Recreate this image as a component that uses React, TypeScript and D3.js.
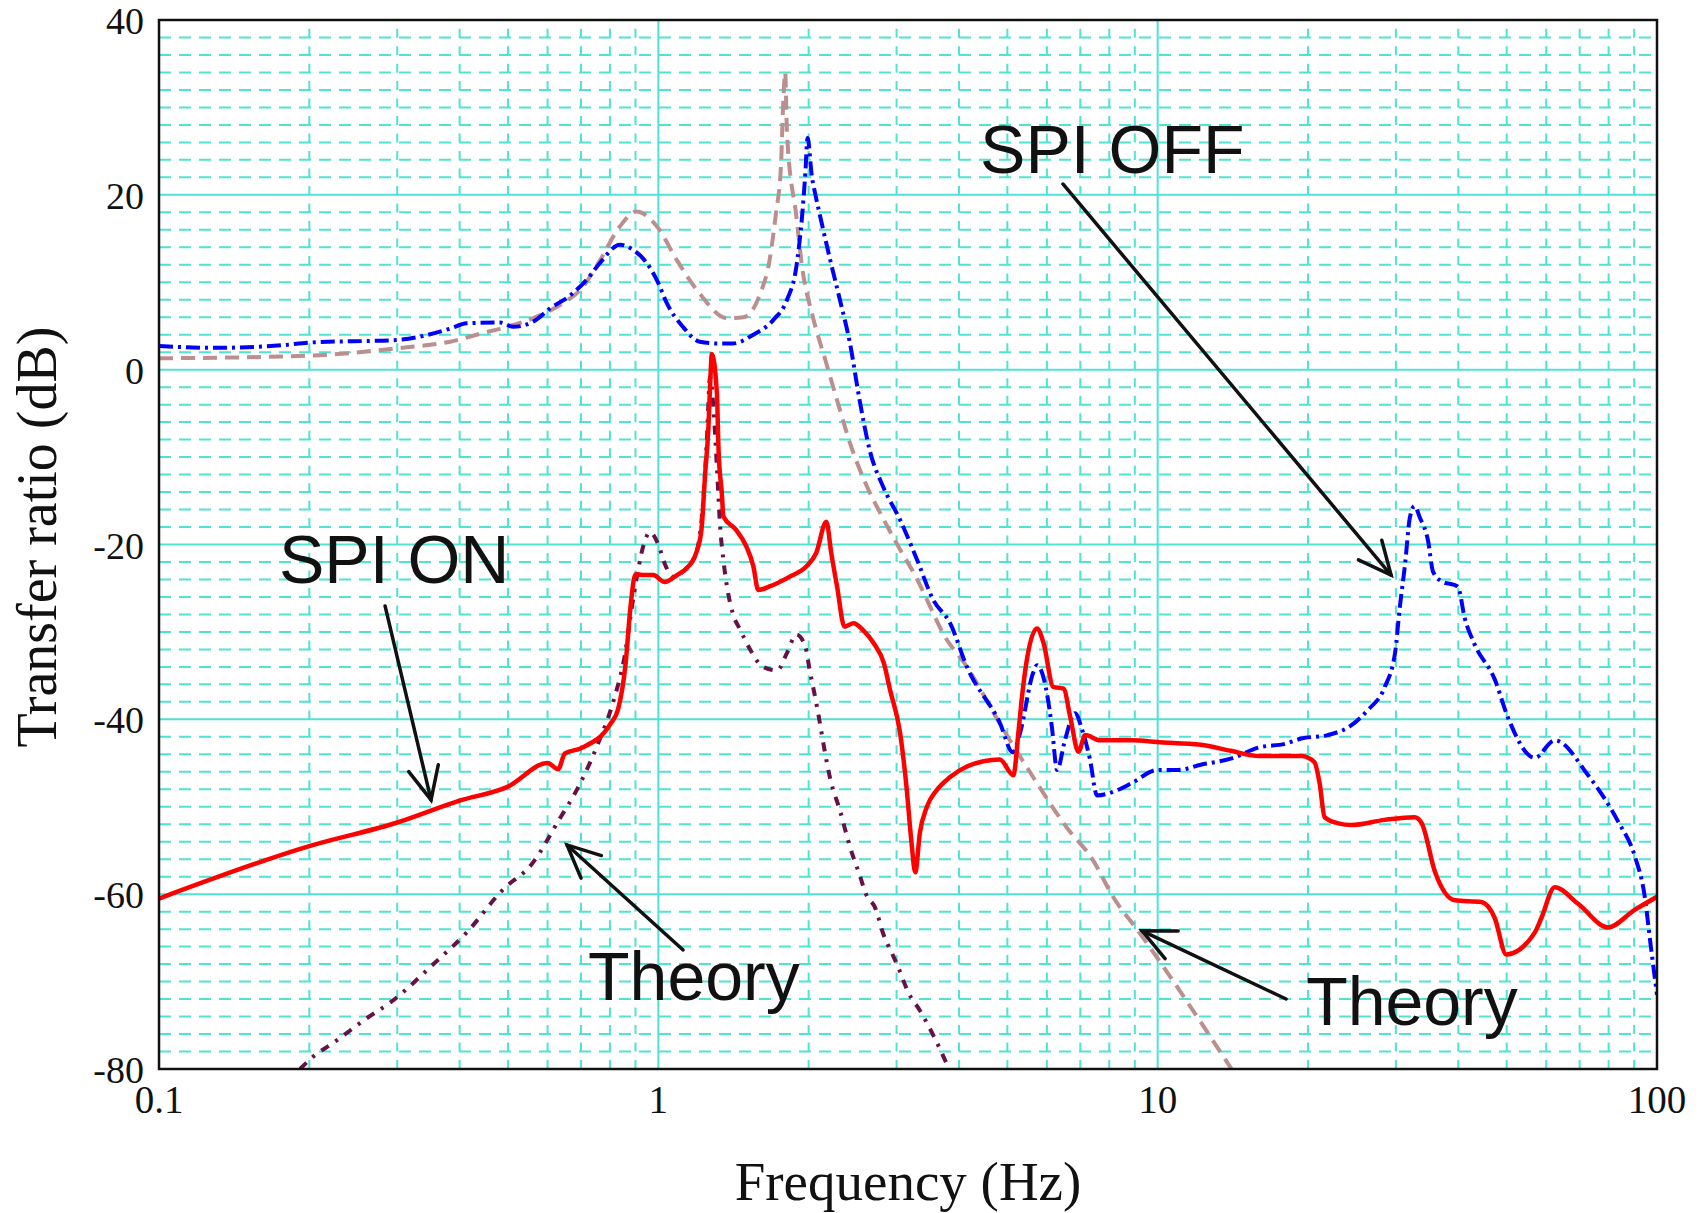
import React from 'react';
import * as d3 from 'd3';

const W = 1701;
const H = 1213;
const margin = { top: 20, right: 44, bottom: 144, left: 159 };

// Axis ticks
const xTicks = [0.1, 1, 10, 100];
const xTickLabels = ['0.1', '1', '10', '100'];
const yTicks = [40, 20, 0, -20, -40, -60, -80];

// Measured transfer ratio, SPI OFF: [frequency Hz, dB]
const spiOff: [number, number][] = [
  [0.1, 2.7], [0.13, 2.5], [0.177, 2.8], [0.2, 3.1], [0.3, 3.4], [0.383, 4.7],
  [0.413, 5.3], [0.482, 5.4], [0.513, 4.9], [0.562, 5.5], [0.607, 7.0], [0.666, 8.5],
  [0.719, 10.3], [0.764, 12.2], [0.838, 14.3], [0.891, 13.7], [0.948, 12.2], [1.0, 9.9],
  [1.04, 7.6], [1.12, 4.9], [1.21, 3.2], [1.31, 3.0], [1.41, 3.0], [1.55, 4.0],
  [1.7, 5.7], [1.81, 8.0], [1.89, 11.8], [1.94, 17.5], [1.97, 22.5], [1.99, 26.5],
  [2.03, 22.1], [2.06, 20.2], [2.11, 17.5], [2.21, 12.5], [2.31, 8.0], [2.42, 3.0],
  [2.53, -3.5], [2.65, -9.2], [2.82, -13.4], [3.05, -17.2], [3.3, -21.8], [3.55, -26.3],
  [3.84, -29.0], [4.15, -34.0], [4.83, -40.4], [5.13, -43.8], [5.3, -41.6], [5.63, -34.7],
  [5.73, -33.8], [6.0, -37.0], [6.14, -40.9], [6.29, -45.8], [6.52, -42.4], [6.83, -39.3],
  [7.06, -41.2], [7.32, -44.6], [7.56, -48.7], [8.3, -48.1], [8.93, -47.2], [9.98, -45.8],
  [10.96, -45.8], [12.2, -45.2], [14, -44.5], [16, -43.2], [18, -42.8], [19.4, -42.2],
  [21.9, -41.8], [24.4, -40.7], [26.4, -38.9], [28.5, -36.3], [29.9, -32.3], [30.5, -27.5],
  [31.3, -22.2], [32, -16.9], [32.7, -15.6], [33.5, -16.9], [34.8, -19.6], [35.6, -23.1],
  [37, -24.2], [39.9, -24.8], [41.2, -28.4], [43.1, -31.4], [47.3, -35.4], [50.3, -39.8],
  [56.9, -44.4], [62.4, -42.4], [72.8, -46.4], [83.6, -51.7], [90.2, -55.6], [94.4, -60.1],
  [97.3, -66.2], [100, -71.5],
];

// Measured transfer ratio, SPI ON
const spiOn: [number, number][] = [
  [0.1, -60.5], [0.2, -54.5], [0.3, -51.8], [0.4, -49.3], [0.5, -47.7], [0.6, -45.0],
  [0.63, -45.7], [0.65, -43.9], [0.7, -43.3], [0.8, -40.6], [0.83, -38.9], [0.86, -33.6],
  [0.88, -27.0], [0.9, -23.4], [0.94, -23.5], [0.977, -23.5], [1.03, -24.3], [1.09, -23.5],
  [1.14, -22.7], [1.19, -21.0], [1.22, -18.3], [1.24, -12.2], [1.26, -6.5], [1.27, -1.6],
  [1.28, 1.8], [1.31, -2.7], [1.32, -9.2], [1.34, -14.1], [1.35, -16.8], [1.43, -18.3],
  [1.5, -20.2], [1.55, -22.5], [1.585, -25.2], [1.67, -24.8], [1.83, -23.7], [1.98, -22.5],
  [2.07, -21.0], [2.17, -17.4], [2.22, -21.0], [2.28, -24.8], [2.36, -29.4], [2.46, -29.0],
  [2.57, -29.8], [2.7, -31.3], [2.83, -33.6], [2.91, -36.6], [3.05, -41.6], [3.14, -47.7],
  [3.21, -53.8], [3.27, -57.5], [3.34, -53.0], [3.45, -50.0], [3.61, -48.1], [3.84, -46.6],
  [4.15, -45.4], [4.48, -44.8], [4.83, -44.6], [5.14, -46.4], [5.26, -41.6], [5.34, -37.8],
  [5.47, -33.2], [5.73, -29.6], [5.91, -31.3], [6.18, -36.3], [6.48, -36.5], [6.68, -39.7],
  [6.94, -43.7], [7.16, -41.8], [7.67, -42.4], [8.93, -42.4], [9.95, -42.6], [12.2, -42.9],
  [14, -43.6], [16, -44.2], [19.4, -44.2], [20.6, -44.9], [21.1, -47.3], [21.6, -51.2],
  [23, -51.9], [24.4, -52.1], [28.5, -51.5], [32.7, -51.2], [33.8, -51.9], [35.9, -57.4],
  [39.4, -60.7], [44.5, -60.9], [47.3, -62.7], [49.9, -66.9], [56.9, -64.4], [58.7, -62.7],
  [62.4, -59.2], [69.5, -61.1], [79.8, -63.8], [90.2, -61.8], [100, -60.3],
];

// Theoretical response, SPI OFF
const theoryOff: [number, number][] = [
  [0.1, 1.3], [0.2, 1.6], [0.3, 2.45], [0.383, 3.2], [0.446, 4.2], [0.498, 4.9],
  [0.562, 5.9], [0.635, 7.4], [0.707, 9.5], [0.764, 12.5], [0.838, 16.4], [0.903, 18.1],
  [0.993, 16.4], [1.09, 12.5], [1.21, 8.7], [1.37, 5.9], [1.48, 6.0], [1.6, 8.7],
  [1.67, 12.5], [1.72, 17.9], [1.76, 23.2], [1.78, 30.9], [1.795, 34.0], [1.81, 27.0],
  [1.89, 17.5], [1.94, 11.8], [2.04, 6.0], [2.16, 1.1], [2.31, -4.6], [2.42, -8.4],
  [2.6, -13.0], [2.83, -17.2], [3.05, -20.6], [3.3, -24.0], [3.45, -26.3], [3.72, -30.2],
  [4.15, -34.0], [4.83, -40.5], [5.63, -46.6], [6.56, -52.3], [7.42, -56.1], [8.14, -60.3],
  [9.19, -64.4], [14.06, -80.0],
];

// Theoretical response, SPI ON
const theoryOn: [number, number][] = [
  [0.1916, -80.0], [0.2034, -78.6], [0.2235, -77.0], [0.2606, -74.2], [0.292, -72.3],
  [0.356, -67.9], [0.413, -64.4], [0.488, -59.5], [0.559, -56.5], [0.631, -51.6],
  [0.692, -47.7], [0.757, -42.8], [0.817, -37.5], [0.854, -33.1], [0.894, -25.6],
  [0.936, -19.9], [0.962, -18.6], [1.0, -20.0], [1.03, -22.2], [1.07, -23.7], [1.12, -23.1],
  [1.19, -21.0], [1.23, -15.0], [1.25, -8.4], [1.27, -0.8], [1.29, -4.6], [1.31, -11.1],
  [1.33, -18.0], [1.35, -21.8], [1.38, -25.6], [1.41, -27.9], [1.46, -29.8], [1.53, -32.1],
  [1.62, -34.0], [1.73, -34.4], [1.81, -32.4], [1.89, -30.3], [1.97, -31.7], [2.01, -34.4],
  [2.06, -37.4], [2.22, -47.3], [2.31, -50.4], [2.42, -54.6], [2.53, -57.8], [2.61, -60.1],
  [2.72, -61.6], [2.82, -64.5], [2.95, -67.0], [3.02, -68.3], [3.17, -71.3], [3.34, -73.3],
  [3.47, -75.0], [3.67, -77.8], [3.8, -79.7],
];

// Callout labels and arrows, placed in data coordinates [Hz, dB]
const calloutTexts = [
  { text: 'SPI OFF', at: [4.41, 22.5] },
  { text: 'SPI ON', at: [0.1739, -24.4] },
  { text: 'Theory', at: [0.7232, -72.1] },
  { text: 'Theory', at: [19.83, -74.96] },
];
const calloutArrows = [
  { from: [6.46, 21.24], to: [29.34, -23.49] },
  { from: [0.2836, -27.03], to: [0.3506, -49.22] },
  { from: [1.121, -66.38], to: [0.6564, -54.37] },
  { from: [18.08, -71.99], to: [9.307, -64.2] },
];

const GRID = '#4fe3d3';

export default function App() {
  const x = d3.scaleLog().domain([0.1, 100]).range([margin.left, W - margin.right]);
  const y = d3.scaleLinear().domain([-80, 40]).range([H - margin.bottom, margin.top]);
  const x0 = x.range()[0], x1 = x.range()[1];
  const y0 = y.range()[0], y1 = y.range()[1];

  const line = d3
    .line<[number, number]>()
    .x((d) => x(d[0]))
    .y((d) => y(d[1]))
    .curve(d3.curveMonotoneX);

  // grid positions
  const minorY = d3.range(-78, 40, 2).filter((v) => v % 20 !== 0);
  const majorY = [-60, -40, -20, 0, 20];
  const minorX: number[] = [];
  [0.1, 1, 10].forEach((dec) => {
    for (let k = 2; k <= 9; k++) minorX.push(dec * k);
  });
  const majorX = [1, 10];

  const arrowHead = (fx: number, fy: number, tx: number, ty: number) => {
    const ang = Math.atan2(fy - ty, fx - tx);
    const len = 36;
    const spread = (25 * Math.PI) / 180;
    const a1 = ang + spread;
    const a2 = ang - spread;
    return `M${tx + len * Math.cos(a1)},${ty + len * Math.sin(a1)}L${tx},${ty}L${tx + len * Math.cos(a2)},${ty + len * Math.sin(a2)}`;
  };

  const serif = '"Liberation Serif", "Times New Roman", Times, serif';
  const sans = '"Liberation Sans", Arial, Helvetica, sans-serif';

  return (
    <svg
      width={W}
      height={H}
      style={{ position: 'absolute', left: 0, top: 0, display: 'block', background: '#fff' }}
    >
      <defs>
        <clipPath id="plot-clip">
          <rect x={x0} y={y1} width={x1 - x0} height={y0 - y1} />
        </clipPath>
      </defs>
      <rect x={0} y={0} width={W} height={H} fill="#fff" />

      {/* grid */}
      <g stroke={GRID} strokeWidth={2} fill="none">
        {minorY.map((v) => (
          <line key={`hy${v}`} x1={x0} x2={x1} y1={y(v)} y2={y(v)} strokeDasharray="12 8" />
        ))}
        {minorX.map((v) => (
          <line key={`vx${v}`} x1={x(v)} x2={x(v)} y1={y0} y2={y1} strokeDasharray="9 8.48" />
        ))}
        {majorY.map((v) => (
          <line key={`HY${v}`} x1={x0} x2={x1} y1={y(v)} y2={y(v)} />
        ))}
        {majorX.map((v) => (
          <line key={`VX${v}`} x1={x(v)} x2={x(v)} y1={y0} y2={y1} />
        ))}
      </g>

      {/* curves */}
      <g clipPath="url(#plot-clip)" fill="none" strokeLinejoin="round">
        <path d={line(theoryOn) || ''} stroke="#661148" strokeWidth={4} strokeDasharray="9 8 3 8" />
        <path d={line(theoryOff) || ''} stroke="#bc8f8f" strokeWidth={4} strokeDasharray="14 8" />
        <path d={line(spiOff) || ''} stroke="#0000ff" strokeWidth={4} strokeDasharray="14 5 3 5" />
        <path d={line(spiOn) || ''} stroke="#ff0000" strokeWidth={4.5} />
      </g>

      {/* frame */}
      <rect x={x0} y={y1} width={x1 - x0} height={y0 - y1} fill="none" stroke="#111" strokeWidth={2.5} />

      {/* y tick labels */}
      <g fontFamily={serif} fontSize={38} fill="#111" textAnchor="end">
        {yTicks.map((v) => (
          <text key={`yl${v}`} x={x0 - 15} y={y(v) + 14}>
            {String(v)}
          </text>
        ))}
      </g>
      {/* x tick labels */}
      <g fontFamily={serif} fontSize={39} fill="#111" textAnchor="middle">
        {xTicks.map((v, i) => (
          <text key={`xl${v}`} x={x(v)} y={y0 + 44}>
            {xTickLabels[i]}
          </text>
        ))}
      </g>

      {/* axis titles */}
      <text x={(x0 + x1) / 2} y={1200} fontFamily={serif} fontSize={55} textAnchor="middle" fill="#111">
        Frequency (Hz)
      </text>
      <text
        transform={`translate(56, 537) rotate(-90)`}
        fontFamily={serif}
        fontSize={56}
        textAnchor="middle"
        fill="#111"
      >
        Transfer ratio (dB)
      </text>

      {/* callouts */}
      <g fontFamily={sans} fontSize={68} fill="#111">
        {calloutTexts.map((c, i) => (
          <text key={`ct${i}`} x={x(c.at[0])} y={y(c.at[1])}>
            {c.text}
          </text>
        ))}
      </g>
      <g stroke="#111" strokeWidth={3.5} fill="none" strokeLinecap="round" strokeLinejoin="miter">
        {calloutArrows.map((a, i) => {
          const fx = x(a.from[0]), fy = y(a.from[1]);
          const tx = x(a.to[0]), ty = y(a.to[1]);
          return (
            <g key={`ca${i}`}>
              <line x1={fx} y1={fy} x2={tx} y2={ty} />
              <path d={arrowHead(fx, fy, tx, ty)} />
            </g>
          );
        })}
      </g>
    </svg>
  );
}
